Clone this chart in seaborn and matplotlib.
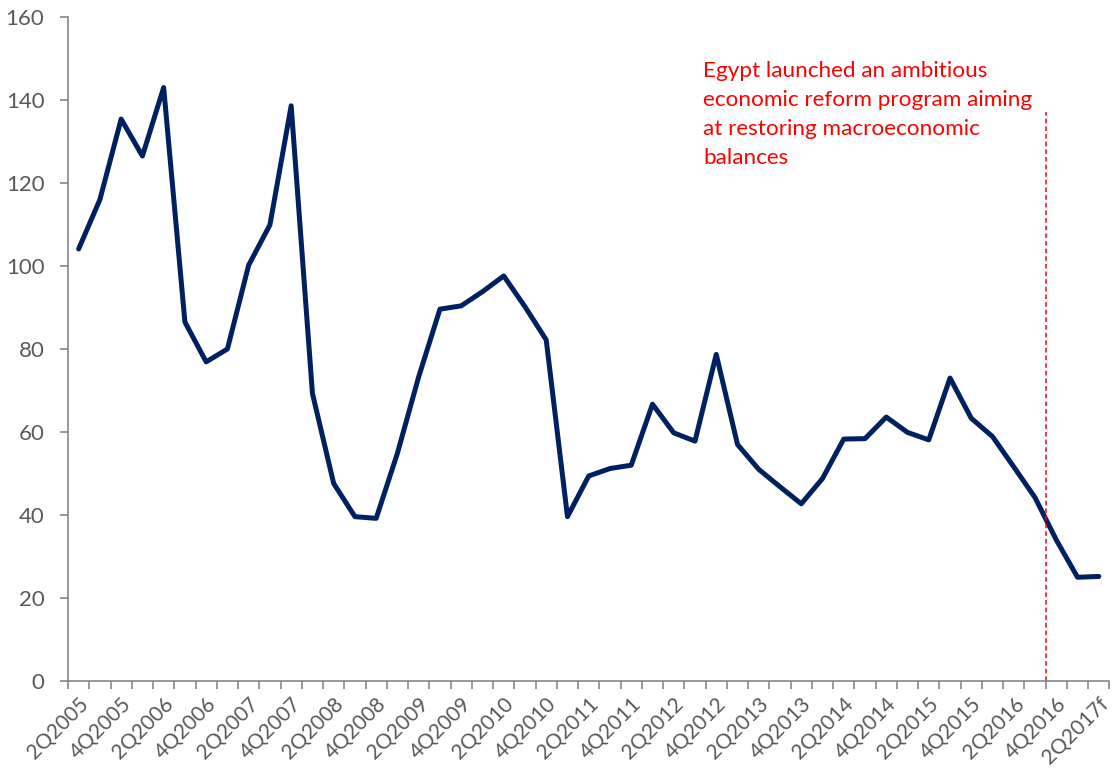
import numpy as np
import pandas as pd
import seaborn as sns
import matplotlib.pyplot as plt

# quarterly values, 2Q2005 .. 2Q2017f (49 quarters)
values = [
    104.1, 116.0, 135.4, 126.5, 143.0, 86.5, 76.9, 80.0, 100.2, 109.9,
    138.6, 69.3, 47.6, 39.6, 39.2, 54.9, 73.3, 89.6, 90.4, 93.8,
    97.6, 90.2, 82.2, 39.6, 49.4, 51.2, 52.0, 66.7, 59.8, 57.8,
    78.7, 57.0, 51.0, 46.8, 42.7, 48.8, 58.3, 58.4, 63.6, 59.9,
    58.1, 73.0, 63.3, 58.9, 51.6, 44.2, 34.0, 25.0, 25.2,
]
tick_labels = [
    "2Q2005", "4Q2005", "2Q2006", "4Q2006", "2Q2007", "4Q2007", "2Q2008",
    "4Q2008", "2Q2009", "4Q2009", "2Q2010", "4Q2010", "2Q2011", "4Q2011",
    "2Q2012", "4Q2012", "2Q2013", "4Q2013", "2Q2014", "4Q2014", "2Q2015",
    "4Q2015", "2Q2016", "4Q2016", "2Q2017f",
]
note = "Egypt launched an ambitious\neconomic reform program aiming\nat restoring macroeconomic\nbalances"

df = pd.DataFrame({"pos": np.arange(len(values)), "value": values})

sns.set_style("white")
plt.rcParams["font.family"] = ["Lato", "DejaVu Sans"]

fig = plt.figure(figsize=(11.15, 7.71), dpi=100)
ax = fig.add_axes([0.061, 0.1167, 0.934, 0.8613])

sns.lineplot(data=df, x="pos", y="value", color="#002060", linewidth=3.6, ax=ax)

# reform marker between 3Q2016 and 4Q2016
ax.vlines(45.5, 0, 137, colors="#ff0000", linestyles=(0, (3, 2)), linewidth=1.1)
ax.text(29.4, 149.3, note, color="#ff0000", fontsize=16.2, va="top", ha="left",
        linespacing=1.55)

ax.set_xlim(-0.5, len(values) - 0.5)
ax.set_ylim(0, 160)
ax.set_yticks(range(0, 161, 20))
ax.set_xticks(np.arange(0, len(values), 2))
ax.set_xticklabels(tick_labels, rotation=45, ha="right", rotation_mode="anchor")
ax.set_xticks(np.arange(-0.5, len(values), 1), minor=True)
ax.set_xlabel("")
ax.set_ylabel("")

for side in ["top", "right"]:
    ax.spines[side].set_visible(False)
for side in ["left", "bottom"]:
    ax.spines[side].set_color("#868686")
    ax.spines[side].set_linewidth(1.2)

ax.tick_params(axis="y", left=True, length=6, width=1.2, color="#868686",
               labelsize=16, labelcolor="#595959", pad=11)
ax.tick_params(axis="x", which="major", bottom=False, length=0,
               labelsize=15, labelcolor="#595959", pad=9)
ax.tick_params(axis="x", which="minor", bottom=True, length=6, width=1.2,
               color="#868686")

fig.savefig("out.png", dpi=100)
